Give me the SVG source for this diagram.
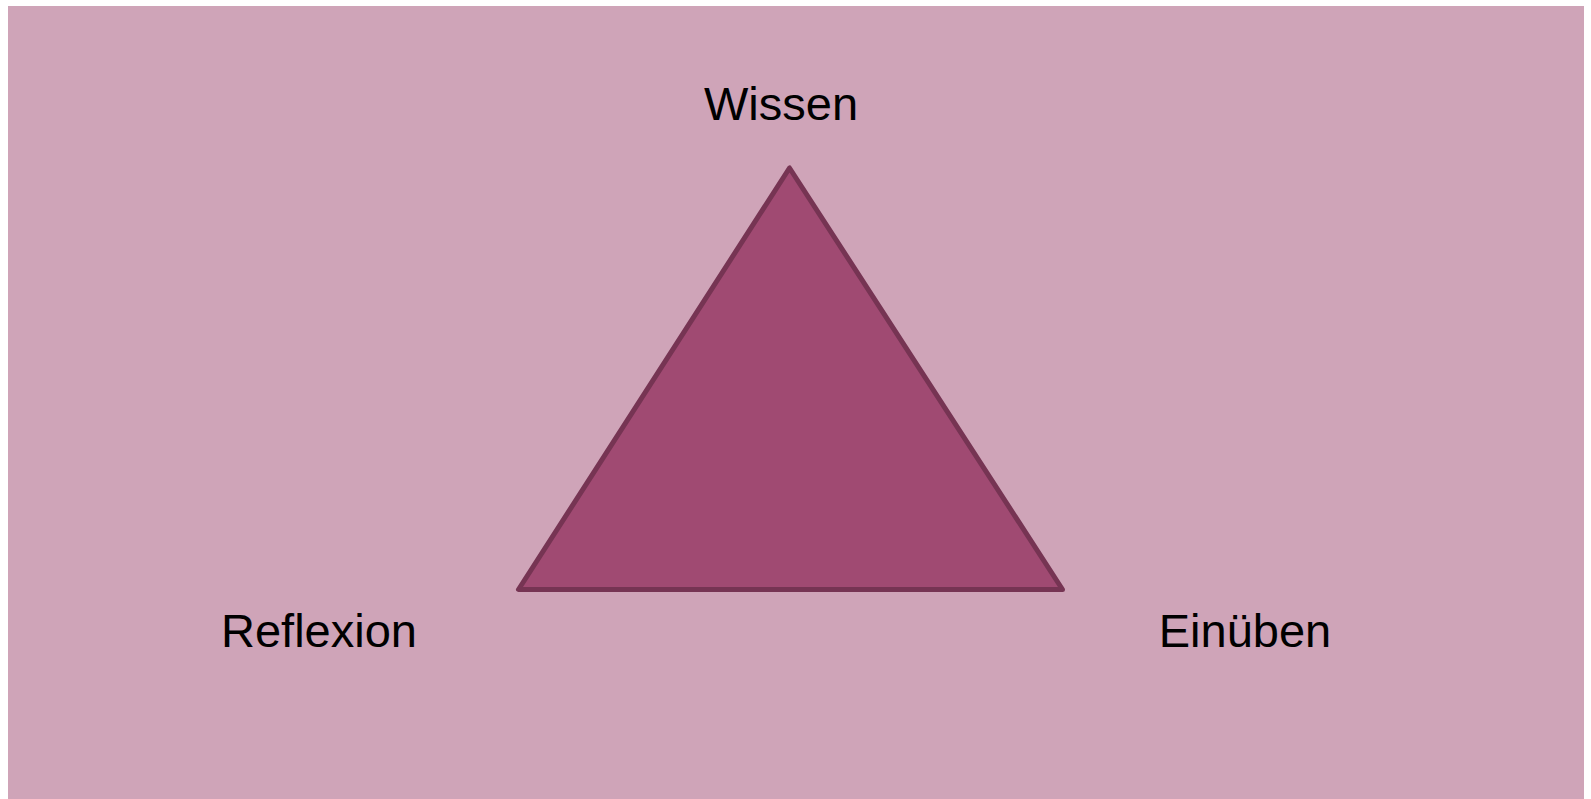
<svg xmlns="http://www.w3.org/2000/svg" width="1591" height="799" viewBox="0 0 1591 799">
<style>
.lbl{font-family:"Liberation Sans",Arial,sans-serif;font-size:47px;fill:#000;text-anchor:middle}
</style>
<rect x="0" y="0" width="1591" height="799" fill="#ffffff"/>
<rect id="bg" x="8" y="6" width="1576" height="793" fill="#cfa4b8"/>
<g id="triangle">
<polygon points="789.5,168 518.5,589.5 1062.5,589.5" fill="#a04a72" stroke="#763453" stroke-width="5" stroke-linejoin="round"/>
</g>
<g id="wissen"><text class="lbl" x="781" y="120">Wissen</text></g>
<g id="reflexion"><text class="lbl" x="319" y="647">Reflexion</text></g>
<g id="einueben"><text class="lbl" x="1245" y="647">Einüben</text></g>
<g id="connectors"/>
</svg>
